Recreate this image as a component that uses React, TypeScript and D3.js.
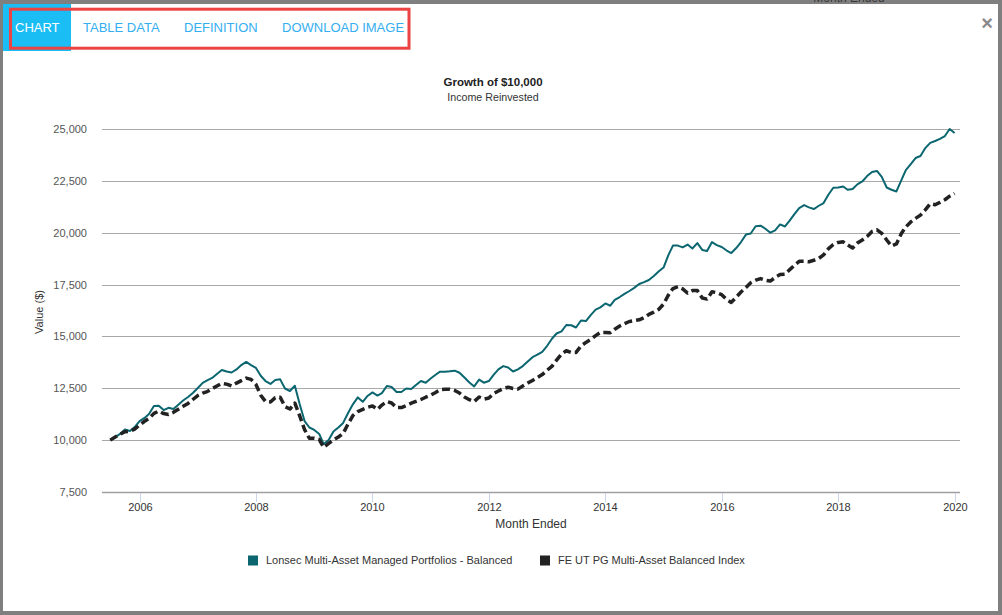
import React from "react";
import * as d3 from "d3";

// Growth of $10,000, monthly, Jun 2005 - Dec 2019
const lonsec = [
  10000, 10150, 10300, 10510, 10440, 10630, 10920, 11070, 11260, 11650, 11660, 11450,
  11560, 11500, 11710, 11910, 12080, 12270, 12510, 12760, 12880, 13000, 13190, 13380,
  13310, 13260, 13410, 13620, 13770, 13620, 13480, 13090, 12850, 12710, 12900, 12930,
  12490, 12370, 12620, 11740, 10920, 10610, 10490, 10300, 9810, 10010, 10420, 10610,
  10830, 11310, 11740, 12060, 11850, 12130, 12300, 12150, 12270, 12610, 12560, 12320,
  12320, 12490, 12470, 12660, 12850, 12770, 12970, 13150, 13300, 13300, 13320, 13350,
  13250, 13020, 12780, 12590, 12920, 12770, 12850, 13160, 13410, 13570, 13500, 13310,
  13410, 13570, 13790, 14000, 14120, 14260, 14550, 14900, 15140, 15240, 15550, 15540,
  15430, 15770, 15740, 16030, 16290, 16400, 16590, 16480, 16760, 16900, 17050, 17190,
  17340, 17530, 17620, 17720, 17910, 18130, 18320, 18930, 19380, 19380, 19290, 19430,
  19240, 19500, 19170, 19120, 19550, 19400, 19310, 19140, 19020, 19260, 19550, 19910,
  19960, 20310, 20340, 20190, 20000, 20110, 20400, 20300, 20570, 20900, 21190, 21330,
  21220, 21140, 21300, 21430, 21840, 22170, 22180, 22230, 22070, 22110, 22330, 22470,
  22730, 22930, 22980, 22690, 22180, 22070, 21990, 22540, 23020, 23310, 23600, 23700,
  24080, 24330, 24420, 24520, 24660, 25000, 24810,
];

const feIndex = [
  10000, 10150, 10290, 10410, 10430, 10530, 10730, 10910, 11040, 11290, 11400, 11280,
  11240, 11340, 11490, 11630, 11770, 11960, 12150, 12270, 12340, 12480, 12610, 12740,
  12700, 12610, 12750, 12870, 12990, 12930, 12680, 12150, 11860, 11840, 12050, 12070,
  11620, 11500, 11790, 11180, 10510, 10090, 10090, 10030, 9650, 9840, 10010, 10150,
  10320, 10780, 11190, 11380, 11480, 11580, 11650, 11480, 11690, 11860, 11790, 11570,
  11570, 11670, 11780, 11870, 11960, 12070, 12170, 12300, 12430, 12450, 12450, 12390,
  12270, 12080, 11950, 11860, 12080, 11980, 12030, 12250, 12370, 12490, 12550, 12490,
  12460, 12610, 12750, 12880, 13020, 13160, 13370, 13570, 13860, 14150, 14310, 14220,
  14230, 14540, 14710, 14850, 15040, 15190, 15190, 15180, 15350, 15500, 15620, 15720,
  15760, 15800, 15910, 16060, 16170, 16300, 16560, 17000, 17310, 17400, 17290, 17090,
  17210, 17210, 16850, 16800, 17150, 17110, 17010, 16780, 16640, 16890, 17140, 17360,
  17590, 17710, 17790, 17710, 17670, 17840, 17980, 18000, 18210, 18430, 18620, 18620,
  18600, 18670, 18760, 18930, 19230, 19430, 19530, 19560, 19410, 19260, 19500, 19650,
  19820, 20060, 20140, 19970, 19650, 19360, 19460, 19960, 20280, 20520, 20690, 20850,
  21100, 21400, 21350, 21460, 21590, 21760, 21890,
];

const seriesNames = [
  "Lonsec Multi-Asset Managed Portfolios - Balanced",
  "FE UT PG Multi-Asset Balanced Index",
];
const yTicks = [7500, 10000, 12500, 15000, 17500, 20000, 22500, 25000];
const xTickYears = [2006, 2008, 2010, 2012, 2014, 2016, 2018, 2020];
const tabs = ["CHART", "TABLE DATA", "DEFINITION", "DOWNLOAD IMAGE"];

const W = 1002;
const H = 615;
const FONT = "'Liberation Sans', Arial, sans-serif";
const TEAL = "#0b6670";
const DARK = "#222222";

export default function App() {
  // month-end values, plotted at the start of the following month
  const months = lonsec.map((_, i) => new Date(2005, 6 + i, 1));

  const plotLeft = 102;
  const plotRight = 960;

  const x = d3
    .scaleTime()
    .domain([new Date(2006, 0, 1), new Date(2020, 0, 1)])
    .range([139.6, 954.6]);
  const y = d3.scaleLinear().domain([7500, 25000]).range([492, 129]);

  const line = d3
    .line<number>()
    .x((_, i) => x(months[i]))
    .y((d) => y(d));

  const tabX = [15, 83, 184, 282];

  return (
    <>
      <style>{`body{margin:0}`}</style>
      <svg width={W} height={H} style={{ display: "block", fontFamily: FONT }}>
        <rect width={W} height={H} fill="#7f7f7f" />
        <text x={849} y={2} textAnchor="middle" fontSize={12} fill="#3a3a3a">
          Month Ended
        </text>
        <rect x={3} y={4} width={995} height={607} fill="#fff" />

        {/* tabs */}
        <rect x={3} y={4} width={68} height={47} fill="#1bbdf5" />
        {tabs.map((t, i) => (
          <text
            key={t}
            x={tabX[i]}
            y={32}
            fontSize={13}
            fill={i === 0 ? "#fff" : "#33aef0"}
          >
            {t}
          </text>
        ))}
        <rect
          x={10.5}
          y={9.2}
          width={398.5}
          height={39}
          fill="none"
          stroke="#ec4343"
          strokeWidth={3}
        />
        <text x={987} y={30} textAnchor="middle" fontSize={20} fontWeight="bold" fill="#8a8a8a">
          ×
        </text>

        {/* titles */}
        <text x={493} y={86} textAnchor="middle" fontSize={11.5} fontWeight="bold" fill="#222">
          Growth of $10,000
        </text>
        <text x={493} y={100.5} textAnchor="middle" fontSize={10.7} fill="#333">
          Income Reinvested
        </text>

        {/* y grid + labels */}
        {yTicks.map((t) => (
          <g key={t}>
            <line
              x1={plotLeft}
              x2={plotRight}
              y1={Math.round(y(t)) + 0.5}
              y2={Math.round(y(t)) + 0.5}
              stroke="#a8a8a8"
              strokeWidth={1}
            />
            <text x={87} y={y(t) + 4} textAnchor="end" fontSize={11} fill="#555">
              {d3.format(",")(t)}
            </text>
          </g>
        ))}
        <text
          transform={`translate(43,312) rotate(-90)`}
          textAnchor="middle"
          fontSize={11}
          fill="#333"
        >
          Value ($)
        </text>

        {/* x axis */}
        <line x1={plotLeft} x2={plotRight} y1={492.5} y2={492.5} stroke="#a0a0a0" strokeWidth={1.5} />
        {xTickYears.map((yr) => {
          const px = Math.round(x(new Date(yr, 0, 1))) + 0.5;
          return (
            <g key={yr}>
              <line x1={px} x2={px} y1={493} y2={502} stroke="#ccd6eb" />
              <text x={px} y={511} textAnchor="middle" fontSize={11} fill="#333">
                {yr}
              </text>
            </g>
          );
        })}
        <text x={531} y={528} textAnchor="middle" fontSize={12} fill="#333">
          Month Ended
        </text>

        {/* series */}
        <path d={line(lonsec) ?? ""} fill="none" stroke={TEAL} strokeWidth={2} strokeLinejoin="round" />
        <path
          d={line(feIndex) ?? ""}
          fill="none"
          stroke={DARK}
          strokeWidth={3.5}
          strokeDasharray="8,4"
          strokeLinejoin="round"
        />

        {/* legend */}
        <rect x={248} y={555.5} width={10} height={10} fill={TEAL} />
        <text x={266} y={564} fontSize={11} fill="#333">
          {seriesNames[0]}
        </text>
        <rect x={540} y={555.5} width={10} height={10} fill={DARK} />
        <text x={558} y={564} fontSize={11} fill="#333">
          {seriesNames[1]}
        </text>
      </svg>
    </>
  );
}
